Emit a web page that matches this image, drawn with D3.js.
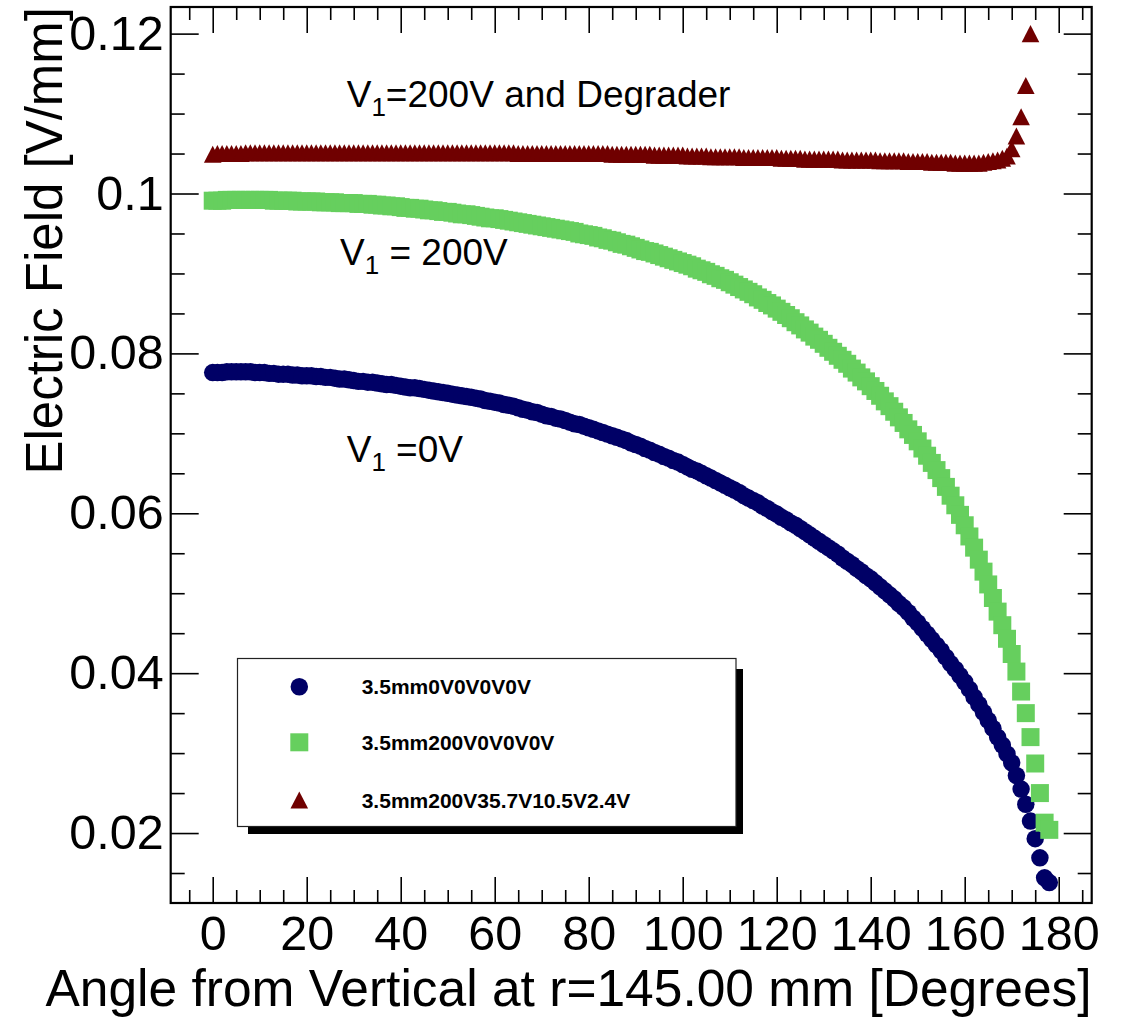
<!DOCTYPE html>
<html>
<head>
<meta charset="utf-8">
<script src="https://cdn.jsdelivr.net/npm/d3@7"></script>
<style>
    body { margin: 0; background: #fff; }
    svg { display: block; font-family: "Liberation Sans", Arial, Helvetica, sans-serif; }
    .axis path.domain { display: none; }
    .axis line { stroke: #000; stroke-width: 1.6; }
</style>
</head>
<body>
<svg id="chart" width="1129" height="1017"></svg>
<script>
// sampled angles, one per degree
var angles = [
    0,1,2,3,4,5,6,7,8,9,10,11,12,13,14,15,16,17,18,19,
    20,21,22,23,24,25,26,27,28,29,30,31,32,33,34,35,36,37,38,39,
    40,41,42,43,44,45,46,47,48,49,50,51,52,53,54,55,56,57,58,59,
    60,61,62,63,64,65,66,67,68,69,70,71,72,73,74,75,76,77,78,79,
    80,81,82,83,84,85,86,87,88,89,90,91,92,93,94,95,96,97,98,99,
    100,101,102,103,104,105,106,107,108,109,110,111,112,113,114,115,116,117,118,119,
    120,121,122,123,124,125,126,127,128,129,130,131,132,133,134,135,136,137,138,139,
    140,141,142,143,144,145,146,147,148,149,150,151,152,153,154,155,156,157,158,159,
    160,161,162,163,164,165,166,167,168,169,170,171,172,173,174,175,176,177,178
];

// 3.5mm0V0V0V0V  (V1 = 0V)
var field0V = [
    .0776,.0776,.0776,.0777,.0777,.0777,.0777,.0777,.0777,.0776,
    .0776,.0776,.0775,.0775,.0774,.0774,.0774,.0773,.0773,.0772,
    .0772,.0772,.0771,.0771,.0770,.0770,.0769,.0768,.0768,.0767,
    .0766,.0765,.0765,.0764,.0764,.0763,.0762,.0761,.0761,.0760,
    .0759,.0758,.0757,.0757,.0756,.0755,.0754,.0753,.0752,.0751,
    .0750,.0749,.0748,.0747,.0746,.0745,.0744,.0743,.0741,.0740,
    .0739,.0738,.0736,.0735,.0734,.0732,.0730,.0729,.0727,.0726,
    .0724,.0722,.0721,.0719,.0718,.0716,.0714,.0712,.0711,.0709,
    .0707,.0705,.0703,.0701,.0699,.0697,.0695,.0693,.0691,.0688,
    .0686,.0684,.0681,.0679,.0676,.0674,.0671,.0669,.0666,.0664,
    .0661,.0658,.0655,.0653,.0650,.0647,.0644,.0641,.0638,.0635,
    .0632,.0629,.0626,.0622,.0619,.0616,.0613,.0609,.0606,.0602,
    .0599,.0595,.0592,.0588,.0585,.0581,.0577,.0573,.0569,.0565,
    .0561,.0557,.0553,.0549,.0544,.0540,.0536,.0531,.0527,.0522,
    .0518,.0513,.0508,.0503,.0498,.0493,.0487,.0482,.0476,.0469,
    .0463,.0456,.0449,.0442,.0435,.0428,.0420,.0412,.0405,.0397,
    .0389,.0380,.0370,.0361,.0351,.0341,.0331,.0320,.0310,.0299,
    .0288,.0272,.0255,.0236,.0215,.0193,.0169,.0144,.0138
];

// 3.5mm200V0V0V0V  (V1 = 200V)
var field200V = [
    .0991,.0991,.0991,.0992,.0992,.0992,.0992,.0992,.0992,.0992,
    .0992,.0992,.0992,.0991,.0991,.0991,.0991,.0991,.0990,.0990,
    .0990,.0990,.0990,.0989,.0989,.0989,.0989,.0988,.0988,.0988,
    .0988,.0987,.0987,.0987,.0986,.0986,.0985,.0985,.0984,.0984,
    .0983,.0982,.0982,.0981,.0981,.0980,.0979,.0979,.0978,.0977,
    .0977,.0976,.0975,.0974,.0974,.0973,.0972,.0971,.0970,.0969,
    .0969,.0968,.0967,.0966,.0965,.0964,.0963,.0962,.0961,.0960,
    .0959,.0958,.0957,.0956,.0955,.0954,.0953,.0952,.0950,.0949,
    .0948,.0947,.0945,.0944,.0942,.0941,.0939,.0937,.0936,.0934,
    .0932,.0930,.0928,.0927,.0925,.0923,.0921,.0919,.0917,.0915,
    .0913,.0911,.0909,.0906,.0904,.0902,.0899,.0897,.0894,.0892,
    .0889,.0886,.0883,.0880,.0877,.0874,.0870,.0867,.0863,.0860,
    .0856,.0852,.0848,.0844,.0839,.0835,.0830,.0826,.0821,.0817,
    .0812,.0807,.0802,.0797,.0792,.0787,.0781,.0776,.0770,.0765,
    .0759,.0753,.0747,.0740,.0734,.0727,.0720,.0713,.0705,.0698,
    .0690,.0681,.0672,.0663,.0654,.0644,.0633,.0622,.0610,.0598,
    .0585,.0571,.0557,.0542,.0527,.0511,.0494,.0477,.0460,.0443,
    .0424,.0402,.0377,.0350,.0320,.0287,.0250,.0213,.0204
];

// 3.5mm200V35.7V10.5V2.4V  (V1 = 200V and degrader)
var fieldDegrader = [
    .1049,.1050,.1050,.1050,.1050,.1050,.1050,.1051,.1051,.1051,
    .1051,.1051,.1051,.1051,.1051,.1051,.1051,.1051,.1051,.1051,
    .1051,.1051,.1051,.1051,.1051,.1051,.1051,.1051,.1051,.1051,
    .1051,.1051,.1051,.1051,.1051,.1051,.1051,.1051,.1051,.1051,
    .1051,.1051,.1051,.1051,.1051,.1051,.1051,.1051,.1051,.1051,
    .1051,.1051,.1051,.1051,.1051,.1051,.1051,.1051,.1051,.1051,
    .1051,.1051,.1051,.1051,.1051,.1050,.1050,.1050,.1050,.1050,
    .1050,.1050,.1050,.1050,.1050,.1050,.1050,.1050,.1050,.1050,
    .1050,.1050,.1050,.1050,.1050,.1049,.1049,.1049,.1049,.1049,
    .1049,.1049,.1049,.1049,.1048,.1048,.1048,.1048,.1048,.1048,
    .1048,.1047,.1047,.1047,.1047,.1047,.1046,.1046,.1046,.1046,
    .1046,.1046,.1046,.1045,.1045,.1045,.1045,.1045,.1045,.1045,
    .1045,.1044,.1044,.1044,.1044,.1044,.1043,.1043,.1043,.1043,
    .1043,.1043,.1043,.1043,.1042,.1042,.1042,.1042,.1042,.1042,
    .1042,.1042,.1041,.1041,.1041,.1041,.1041,.1041,.1040,.1040,
    .1040,.1040,.1040,.1039,.1039,.1039,.1039,.1039,.1038,.1038,
    .1038,.1038,.1038,.1038,.1039,.1040,.1041,.1042,.1044,.1047,
    .1056,.1072,.1096,.1135,.1200
];

var seriesNames = ["3.5mm0V0V0V0V", "3.5mm200V0V0V0V", "3.5mm200V35.7V10.5V2.4V"];
var seriesColors = ["#000066", "#66cf5e", "#700000"];

var xMajorTicks = [0, 20, 40, 60, 80, 100, 120, 140, 160, 180];
var xTickLabels = ["0", "20", "40", "60", "80", "100", "120", "140", "160", "180"];
var xMinorTicks = [-5, 5, 10, 15, 25, 30, 35, 45, 50, 55, 65, 70, 75, 85, 90, 95,
                   105, 110, 115, 125, 130, 135, 145, 150, 155, 165, 170, 175, 185];
var yMajorTicks = [0.02, 0.04, 0.06, 0.08, 0.1, 0.12];
var yTickLabels = ["0.02", "0.04", "0.06", "0.08", "0.1", "0.12"];
var yMinorTicks = [0.015, 0.025, 0.03, 0.035, 0.045, 0.05, 0.055, 0.065, 0.07, 0.075,
                   0.085, 0.09, 0.095, 0.105, 0.11, 0.115];

var xTitle = "Angle from Vertical at r=145.00 mm [Degrees]";
var yTitle = "Electric Field [V/mm]";

var frame = {left: 170.7, right: 1091.7, top: 7, bottom: 903};
var tickFont = 48.5;

var svg = d3.select("#chart");

var x = d3.scaleLinear().domain([-8.94, 187.02]).range([frame.left, frame.right]);
var y = d3.scaleLinear().domain([0.01125, 0.12333]).range([frame.bottom, frame.top]);

// marker shapes as used by ROOT (full circle, full square, full triangle)
var triangleType = {
    draw: function(ctx, size) {
        var w = Math.sqrt(size), h = w * 0.97;
        ctx.moveTo(0, -h / 2);
        ctx.lineTo(w / 2, h / 2);
        ctx.lineTo(-w / 2, h / 2);
        ctx.closePath();
    }
};
var markerTypes = [d3.symbolCircle, d3.symbolSquare, triangleType];
var markerSizes = [240, 324, 310];

function series(values) {
    return values.map(function(v, i) { return {angle: angles[i], field: v}; });
}
var allSeries = [series(field0V), series(field200V), series(fieldDegrader)];

// axes: major and minor ticks on all four sides, pointing inwards
function styleLabels(g) {
    g.attr("font-family", null);
    g.selectAll("text").attr("font-size", tickFont).attr("fill", "#000");
}

svg.append("g")
    .attr("class", "axis")
    .attr("transform", "translate(0," + frame.bottom + ")")
    .call(d3.axisBottom(x).tickValues(xMajorTicks)
        .tickFormat(function(d, i) { return xTickLabels[i]; })
        .tickSizeInner(-26).tickSizeOuter(0).tickPadding(12.6))
    .call(styleLabels);

svg.append("g")
    .attr("class", "axis")
    .attr("transform", "translate(0," + frame.bottom + ")")
    .call(d3.axisBottom(x).tickValues(xMinorTicks).tickFormat("")
        .tickSizeInner(-13).tickSizeOuter(0));

svg.append("g")
    .attr("class", "axis")
    .attr("transform", "translate(0," + frame.top + ")")
    .call(d3.axisTop(x).tickValues(xMajorTicks).tickFormat("")
        .tickSizeInner(-26).tickSizeOuter(0));

svg.append("g")
    .attr("class", "axis")
    .attr("transform", "translate(0," + frame.top + ")")
    .call(d3.axisTop(x).tickValues(xMinorTicks).tickFormat("")
        .tickSizeInner(-13).tickSizeOuter(0));

svg.append("g")
    .attr("class", "axis")
    .attr("transform", "translate(" + frame.left + ",0)")
    .call(d3.axisLeft(y).tickValues(yMajorTicks)
        .tickFormat(function(d, i) { return yTickLabels[i]; })
        .tickSizeInner(-28).tickSizeOuter(0).tickPadding(7))
    .call(styleLabels);

svg.append("g")
    .attr("class", "axis")
    .attr("transform", "translate(" + frame.left + ",0)")
    .call(d3.axisLeft(y).tickValues(yMinorTicks).tickFormat("")
        .tickSizeInner(-14).tickSizeOuter(0));

svg.append("g")
    .attr("class", "axis")
    .attr("transform", "translate(" + frame.right + ",0)")
    .call(d3.axisRight(y).tickValues(yMajorTicks).tickFormat("")
        .tickSizeInner(-28).tickSizeOuter(0));

svg.append("g")
    .attr("class", "axis")
    .attr("transform", "translate(" + frame.right + ",0)")
    .call(d3.axisRight(y).tickValues(yMinorTicks).tickFormat("")
        .tickSizeInner(-14).tickSizeOuter(0));

svg.append("rect")
    .attr("x", frame.left)
    .attr("y", frame.top)
    .attr("width", frame.right - frame.left)
    .attr("height", frame.bottom - frame.top)
    .attr("fill", "none")
    .attr("stroke", "#000")
    .attr("stroke-width", 2.2);

// axis titles
svg.append("text")
    .attr("x", frame.right)
    .attr("y", 1006)
    .attr("text-anchor", "end")
    .attr("font-size", 51.5)
    .text(xTitle);

svg.append("text")
    .attr("transform", "translate(62," + frame.top + ") rotate(-90)")
    .attr("text-anchor", "end")
    .attr("font-size", 51)
    .text(yTitle);

// data points
allSeries.forEach(function(data, k) {
    var sym = d3.symbol().type(markerTypes[k]).size(markerSizes[k]);
    svg.append("g")
        .selectAll("path")
        .data(data)
        .enter().append("path")
        .attr("transform", function(d) { return "translate(" + x(d.angle) + "," + y(d.field) + ")"; })
        .attr("d", sym)
        .attr("fill", seriesColors[k]);
});

// annotations
var notes = [
    {x: 346.7, y: 106.7, rest: "=200V and Degrader"},
    {x: 340, y: 265, rest: " = 200V"},
    {x: 346.7, y: 461.7, rest: " =0V"}
];
notes.forEach(function(n) {
    var t = svg.append("text")
        .attr("x", n.x)
        .attr("y", n.y)
        .attr("font-size", 37)
        .style("white-space", "pre");
    t.append("tspan").text("V");
    t.append("tspan").attr("font-size", 26).attr("dy", 9).text("1");
    t.append("tspan").attr("dy", -9).text(n.rest);
});

// legend with ROOT-style shadow
var legend = svg.append("g");
legend.append("rect")
    .attr("x", 248).attr("y", 669)
    .attr("width", 495).attr("height", 165)
    .attr("fill", "#000");
legend.append("rect")
    .attr("x", 237.5).attr("y", 658.5)
    .attr("width", 498.5).attr("height", 168)
    .attr("fill", "#fff")
    .attr("stroke", "#222")
    .attr("stroke-width", 1.2);

var legendRows = [686.7, 742.3, 800];
seriesNames.forEach(function(name, k) {
    legend.append("path")
        .attr("transform", "translate(299.3," + legendRows[k] + ")")
        .attr("d", d3.symbol().type(markerTypes[k]).size(markerSizes[k])())
        .attr("fill", seriesColors[k]);
    legend.append("text")
        .attr("x", 361.7)
        .attr("y", legendRows[k] + 7.5)
        .attr("font-size", 21)
        .attr("font-weight", "bold")
        .text(name);
});
</script>
</body>
</html>
